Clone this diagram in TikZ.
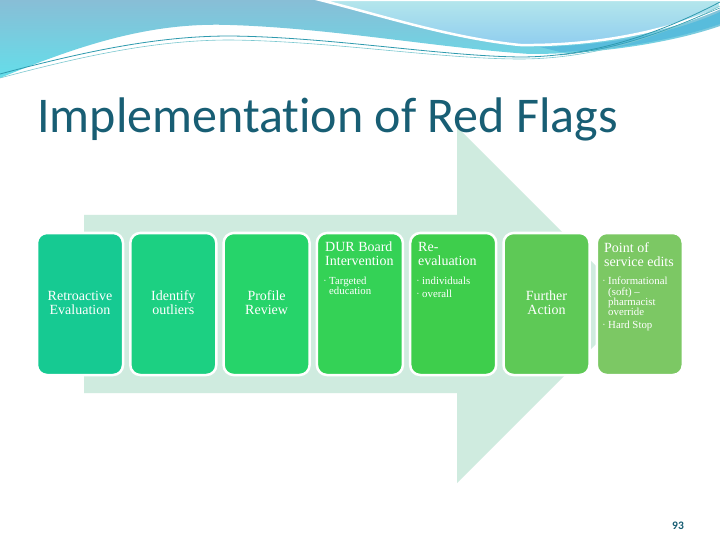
\documentclass[tikz,border=0pt]{standalone}
\usepackage{fontspec}
\setmainfont{Liberation Serif}
\newfontfamily\titlefont[RawFeature={-liga;-clig;-calt;-dlig}]{Carlito}
\definecolor{titlec}{RGB}{24,94,116}
\definecolor{arrowc}{RGB}{207,235,223}
\definecolor{bA}{RGB}{22,202,146}
\definecolor{bB}{RGB}{28,208,130}
\definecolor{bC}{RGB}{38,212,106}
\definecolor{bD}{RGB}{52,210,86}
\definecolor{bE}{RGB}{62,206,76}
\definecolor{bF}{RGB}{94,201,86}
\definecolor{bG}{RGB}{124,200,100}
\definecolor{bandtop}{RGB}{136,190,214}
\definecolor{bandbot}{RGB}{100,222,234}
\definecolor{paletop}{RGB}{180,230,236}
\definecolor{palebot}{RGB}{143,205,239}
\definecolor{midblue}{RGB}{88,188,220}
\definecolor{linec}{RGB}{46,154,174}
\definecolor{linel}{RGB}{124,200,208}
\newcommand\bul{\makebox[5pt][l]{\raisebox{2pt}{\fontsize{5}{5}\selectfont\textbullet}}}
\newcommand\ind{\hspace*{5pt}}
\begin{document}
\begin{tikzpicture}[x=1pt,y=-1pt,
  boxst/.style={draw=white, line width=2.5pt, rounded corners=10pt,
    minimum width=86pt, minimum height=142pt, inner sep=0pt},
  lbl/.style={align=center, text=white, inner sep=0pt,
    font=\fontsize{14}{14}\selectfont},
  headst/.style={align=left, text=white, inner sep=0pt, anchor=north west,
    font=\fontsize{14}{14}\selectfont},
  bulst/.style={align=left, text=white, inner sep=0pt, anchor=north west,
    font=\fontsize{10.8}{10.3}\selectfont}]
\fill[white] (0,0) rectangle (720,540);
\useasboundingbox (0,0) rectangle (720,540);
% top decoration
\shade[top color=bandtop, bottom color=bandbot]
  (0,0) -- (0,78) .. controls (80,45) and (150,22) .. (230,25)
  .. controls (330,28) and (440,48) .. (530,54)
  .. controls (610,54) and (680,40) .. (720,26) -- (720,0) -- cycle;
\fill[midblue] (540,47) .. controls (620,45) and (680,30) .. (720,12)
  -- (720,24) .. controls (680,38) and (620,50) .. (560,52) -- cycle;
\shade[top color=paletop, bottom color=palebot, draw=white, line width=2.5pt]
  (320,0) .. controls (380,15) and (450,38) .. (520,45)
  .. controls (600,46) and (670,30) .. (720,8) -- (720,0) -- cycle;
\draw[linec, line width=0.8pt] (0,74) .. controls (90,50) and (160,36) .. (230,36)
  .. controls (330,37) and (440,56) .. (520,57)
  .. controls (600,57) and (670,28) .. (720,2);
\draw[linel, line width=0.6pt] (0,78) .. controls (90,54) and (160,40) .. (230,40)
  .. controls (330,41) and (440,59) .. (520,59)
  .. controls (600,59) and (670,32) .. (720,6);
\draw[linec, line width=0.5pt] (560,55) .. controls (630,48) and (680,24) .. (720,8);
% big arrow
\fill[arrowc] (84,215) -- (457,215) -- (457,127) -- (635,305)
  -- (457,483) -- (457,393) -- (84,393) -- cycle;
% title
\node[anchor=base west, inner sep=0pt, text=titlec,
  font=\titlefont\fontsize{50}{50}\selectfont] (title) at (37,133)
  {Implementation of Red Flags};
% boxes
\node[boxst, fill=bA] (b1) at (80,304) {};
\node[boxst, fill=bB] (b2) at (173.3,304) {};
\node[boxst, fill=bC] (b3) at (266.6,304) {};
\node[boxst, fill=bD] (b4) at (359.9,304) {};
\node[boxst, fill=bE] (b5) at (453.2,304) {};
\node[boxst, fill=bF] (b6) at (546.5,304) {};
\node[boxst, fill=bG] (b7) at (639.8,304) {};
% centred labels
\node[lbl] (t1) at ([yshift=1pt]b1.center) {Retroactive\\Evaluation};
\node[lbl] (t2) at ([yshift=1pt]b2.center) {Identify\\outliers};
\node[lbl] (t3) at ([yshift=1pt]b3.center) {Profile\\Review};
\node[lbl] (t6) at ([yshift=1pt]b6.center) {Further\\Action};
% headed boxes
\node[headst] (h4) at (325,242) {DUR Board\\Intervention};
\node[bulst] (l4) at (324,277) {\bul Targeted\\\ind education};
\node[headst] (h5) at (418,242) {Re-\\evaluation};
\node[bulst] (l5) at (417,277) {\bul individuals\\[2.5pt]\bul overall};
\node[headst] (h7) at (604,242) {Point of\\service edits};
\node[bulst] (l7) at (603,277) {\bul Informational\\\ind (soft) --\\\ind pharmacist\\\ind override\\[2.5pt]\bul Hard Stop};
% page number
\node[anchor=base, inner sep=0pt, text=titlec, font=\titlefont\bfseries\fontsize{11.5}{11.5}\selectfont] (pn) at (678,529) {93};
\end{tikzpicture}
\end{document}
